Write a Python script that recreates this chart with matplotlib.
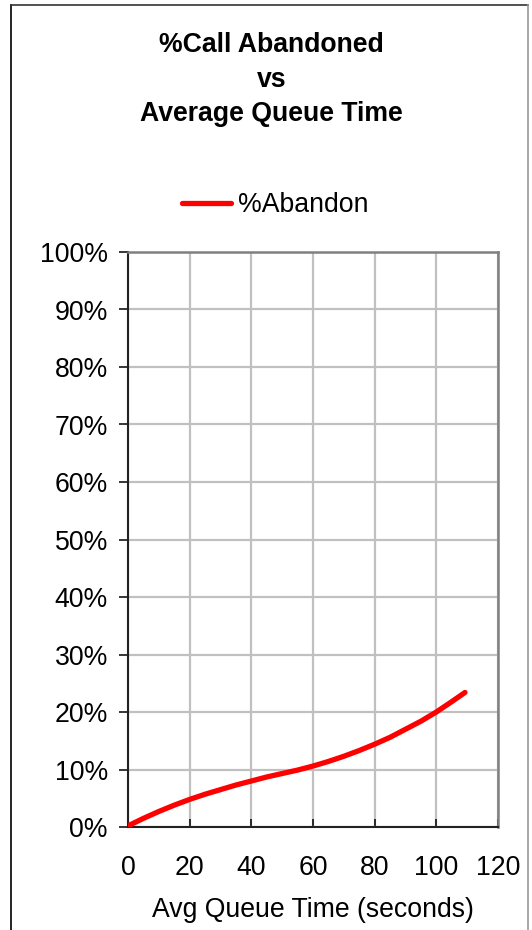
import matplotlib.pyplot as plt
from matplotlib.lines import Line2D
from matplotlib.ticker import PercentFormatter

# average queue time (seconds) and share of calls abandoned (%)
queue_time = [0, 5, 10, 15, 20, 25, 30, 35, 40, 45, 50, 55, 60, 65, 70, 75, 80, 85, 90, 95, 100, 105, 109.3]
abandon_pct = [0.2, 1.5, 2.7, 3.8, 4.8, 5.7, 6.5, 7.3, 8.0, 8.7, 9.3, 9.9, 10.6, 11.4, 12.3, 13.3, 14.4, 15.6, 17.0, 18.4, 20.0, 21.8, 23.4]

x_ticks = [0, 20, 40, 60, 80, 100, 120]
y_ticks = [0, 10, 20, 30, 40, 50, 60, 70, 80, 90, 100]

plt.rcParams['font.family'] = ['Liberation Sans', 'DejaVu Sans']
FS = 19.2

W, H = 532, 930
fig = plt.figure(figsize=(W / 100, H / 100), dpi=100)
fig.patch.set_facecolor('white')

# chart frame
fig.add_artist(Line2D([11 / W, 11 / W], [0, 1 - 5 / H], color='black', lw=1.2, transform=fig.transFigure))
fig.add_artist(Line2D([11 / W, 528 / W], [1 - 5 / H, 1 - 5 / H], color='#333333', lw=1.2, transform=fig.transFigure))
fig.add_artist(Line2D([528 / W, 528 / W], [0, 1 - 5 / H], color='#999999', lw=1.2, transform=fig.transFigure))

ax = fig.add_axes([128 / W, 1 - 827 / H, (498 - 128) / W, (827 - 252) / H])

ax.plot(queue_time, abandon_pct, color='#ff0000', lw=3.8, solid_capstyle='round',
        solid_joinstyle='round', label='%Abandon', zorder=3)

ax.set_xlim(0, 120)
ax.set_ylim(0, 100)
ax.set_xticks(x_ticks)
ax.set_yticks(y_ticks)
ax.yaxis.set_major_formatter(PercentFormatter(decimals=0))
ax.grid(True, color='#c0c0c0', lw=1.6)
ax.set_axisbelow(True)

for side in ['left', 'bottom']:
    ax.spines[side].set_color('#222222')
    ax.spines[side].set_linewidth(1.5)
for side in ['top', 'right']:
    ax.spines[side].set_color('#808080')
    ax.spines[side].set_linewidth(1.8)

ax.tick_params(axis='y', direction='out', length=6.5, width=1.1, pad=8, labelsize=FS, colors='black')
ax.tick_params(axis='x', direction='in', length=6, width=1.1, pad=20.5, labelsize=FS, colors='black')

ax.set_xlabel('Avg Queue Time (seconds)', fontsize=FS, labelpad=11)

# title, three centred lines
title_lines = ['%Call Abandoned', 'vs', 'Average Queue Time']
for line, yp in zip(title_lines, [45, 80, 114]):
    fig.text(271.5 / W, 1 - yp / H, line, ha='center', va='center', fontsize=FS, fontweight='bold')

fig.legend(loc='center', bbox_to_anchor=(275 / W, 1 - 205.5 / H), frameon=False,
           fontsize=FS, handlelength=1.85, handletextpad=0.25)

fig.savefig('out.png', dpi=100)
